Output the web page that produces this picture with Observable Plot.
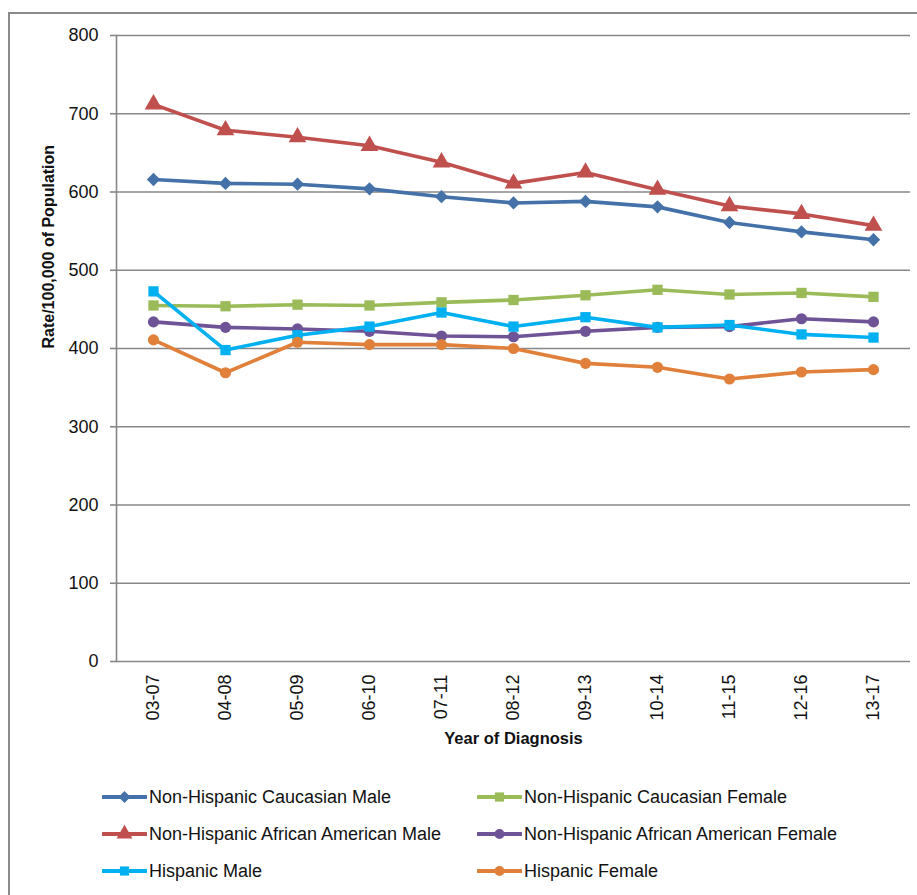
<!DOCTYPE html>
<html>
<head>
<meta charset="utf-8">
<script src="https://cdn.jsdelivr.net/npm/d3@7"></script>
<script src="https://cdn.jsdelivr.net/npm/@observablehq/plot@0.6"></script>
<style>
  html, body { margin: 0; padding: 0; background: #fff; width: 917px; height: 895px; overflow: hidden; }
  body { position: relative; font-family: "Liberation Sans", Arial, sans-serif; }
  #border { position: absolute; left: 8px; top: 12px; width: 1000px; height: 1000px; border: 2px solid #8a8a8a; box-sizing: border-box; }
  #chart { position: absolute; left: 0; top: 0; }
  #legend { position: absolute; left: 0; top: 0; }
  .item { position: absolute; display: flex; align-items: center; font-size: 18px; color: #111; white-space: nowrap; }
  .item svg { display: block; margin-right: 2px; }
</style>
</head>
<body>
<div id="border"></div>
<div id="chart"></div>
<div id="legend"></div>
<script>
const categories = ["03-07","04-08","05-09","06-10","07-11","08-12","09-13","10-14","11-15","12-16","13-17"];
const cauMale    = [616, 611, 610, 604, 594, 586, 588, 581, 561, 549, 539];
const cauFemale  = [455, 454, 456, 455, 459, 462, 468, 475, 469, 471, 466];
const aaMale     = [712, 679, 670, 659, 638, 611, 625, 603, 582, 572, 557];
const aaFemale   = [434, 427, 425, 422, 416, 415, 422, 427, 428, 438, 434];
const hispMale   = [473, 398, 417, 428, 446, 428, 440, 427, 430, 418, 414];
const hispFemale = [411, 369, 408, 405, 405, 400, 381, 376, 361, 370, 373];
const yTicks = [0, 100, 200, 300, 400, 500, 600, 700, 800];

const seriesNames = ["Non-Hispanic Caucasian Male","Non-Hispanic Caucasian Female","Non-Hispanic African American Male","Non-Hispanic African American Female","Hispanic Male","Hispanic Female"];
const seriesValues = [cauMale, cauFemale, aaMale, aaFemale, hispMale, hispFemale];
const seriesColors = ["#4472A8","#9BBB59","#C0504D","#6F5397","#00B0F0","#E0803A"];
const seriesSymbols = ["diamond2","square","triangle","circle","square","circle"];
const seriesR = [6, 5.8, 6.6, 5.6, 5.8, 5.6];

const series = seriesNames.map((name, i) => ({
  name, color: seriesColors[i], symbol: seriesSymbols[i], r: seriesR[i],
  data: categories.map((c, j) => ({cat: c, value: seriesValues[i][j]}))
}));

const font = '"Liberation Sans", Arial, sans-serif';

const chart = Plot.plot({
  width: 917,
  height: 760,
  marginTop: 35,
  marginBottom: 99,
  marginLeft: 116,
  marginRight: 7,
  style: { fontFamily: font, fontSize: "18px", color: "#111", background: "transparent" },
  x: { type: "point", domain: categories, padding: 0.5, label: null },
  y: { domain: [0, 800], ticks: yTicks, label: null },
  marks: [
    Plot.ruleY(yTicks, { stroke: "#878787", strokeWidth: 1.6 }),
    Plot.frame({ anchor: "left", stroke: "#878787", strokeWidth: 1.6 }),
    Plot.axisY({ ticks: yTicks, tickSize: 6, tickPadding: 12, stroke: "#878787", strokeWidth: 1.6, fontSize: 18, label: null }),
    Plot.axisX({ tickSize: 0, tickPadding: 13, tickRotate: -90, fontSize: 18, label: null }),
    Plot.text(["Rate/100,000 of Population"], { frameAnchor: "left", dx: -68, rotate: -90, fontWeight: "bold", fontSize: 16, fill: "#111" }),
    Plot.text(["Year of Diagnosis"], { frameAnchor: "bottom", dy: 82, fontWeight: "bold", fontSize: 16.5, fill: "#111" }),
    ...series.flatMap(s => [
      Plot.lineY(s.data, { x: "cat", y: "value", stroke: s.color, strokeWidth: 3.6 }),
      Plot.dot(s.data, { x: "cat", y: "value", symbol: () => s.symbol, fill: s.color, stroke: "none", r: s.r })
    ])
  ]
});
document.getElementById("chart").appendChild(chart);

// Legend
const legendPos = [
  {left: 102, top: 797}, {left: 477, top: 797},
  {left: 102, top: 834}, {left: 477, top: 834},
  {left: 102, top: 871}, {left: 477, top: 871}
];
const legend = document.getElementById("legend");
series.forEach((s, i) => {
  const item = document.createElement("div");
  item.className = "item";
  item.style.left = legendPos[i].left + "px";
  item.style.top = (legendPos[i].top - 12) + "px";
  item.style.height = "24px";
  const sw = d3.create("svg").attr("width", 45).attr("height", 24);
  sw.append("line").attr("x1", 1).attr("x2", 44).attr("y1", 12).attr("y2", 12)
    .attr("stroke", s.color).attr("stroke-width", 4).attr("stroke-linecap", "round");
  const sym = {diamond2: d3.symbolDiamond2, square: d3.symbolSquare, triangle: d3.symbolTriangle, circle: d3.symbolCircle}[s.symbol];
  sw.append("path").attr("d", d3.symbol(sym, Math.PI * s.r * s.r * 0.8)()).attr("transform", "translate(22.5,12)").attr("fill", s.color);
  item.appendChild(sw.node());
  const t = document.createElement("span");
  t.textContent = s.name;
  item.appendChild(t);
  legend.appendChild(item);
});
</script>
</body>
</html>
